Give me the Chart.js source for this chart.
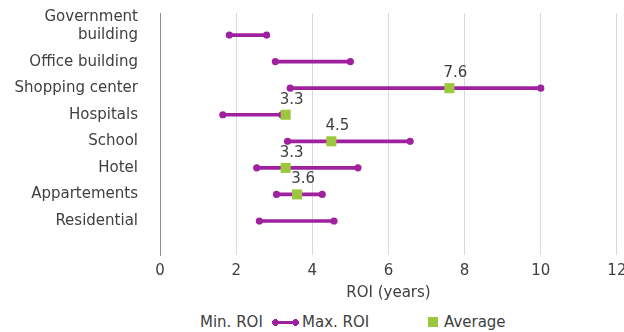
<!DOCTYPE html>
<html>
<head>
<meta charset="utf-8">
<script src="https://cdn.jsdelivr.net/npm/chart.js@4/dist/chart.umd.min.js"></script>
<style>
  html, body { margin: 0; padding: 0; background: #fff; }
  body { width: 624px; height: 332px; overflow: hidden; font-family: "DejaVu Sans", sans-serif; color: #404040; }
  #wrap { position: relative; width: 624px; height: 305px; }
  #legend { position: absolute; left: 0; top: 311px; width: 624px; height: 22px; font-size: 15px; line-height: 22px; }
  #legend span { position: absolute; top: 0; white-space: nowrap; }
  .dumbbell { width: 27px; height: 22px; }
  .dumbbell::before { content: ""; position: absolute; left: 3px; right: 3px; top: 10px; height: 3px; background: #a0219f; }
  .dumbbell::after { content: ""; position: absolute; left: 0; right: 0; top: 8px; height: 7px;
    background: radial-gradient(circle at 3.5px 3.5px, #a0219f 3.4px, transparent 3.6px),
                radial-gradient(circle at 23.5px 3.5px, #a0219f 3.4px, transparent 3.6px); }
  .square { width: 10px; height: 10px; margin-top: 6px; background: #9dc63f; }
</style>
</head>
<body>
<div id="wrap"><canvas id="roiChart"></canvas></div>
<div id="legend">
  <span style="left:200px">Min. ROI</span>
  <span class="dumbbell" style="left:272px"></span>
  <span style="left:302px">Max. ROI</span>
  <span class="square" style="left:428px"></span>
  <span style="left:444px">Average</span>
</div>
<script>
// ROI payback range per building type (years)
const categories = [["Government", "building"], "Office building", "Shopping center", "Hospitals",
                    "School", "Hotel", "Appartements", "Residential"];
const minRoi = [1.82, 3.03, 3.42, 1.65, 3.35, 2.54, 3.06, 2.61];
const maxRoi = [2.80, 5.00, 10.0, 3.20, 6.57, 5.20, 4.26, 4.57];
const avgRoi = [null, null, 7.6, 3.3, 4.5, 3.3, 3.6, null];
const xTicks = [0, 2, 4, 6, 8, 10, 12];

const PURPLE = "#a0219f";
const GREEN = "#9dc63f";
const TEXT = "#404040";
const FONT = "'DejaVu Sans', sans-serif";

const pts = (vals) => vals.map((v, i) => (v == null ? null : { x: v, y: i })).filter(Boolean);

// value labels above the average squares
const avgLabels = {
  id: "avgLabels",
  afterDatasetsDraw(chart) {
    const meta = chart.getDatasetMeta(0);
    const ctx = chart.ctx;
    ctx.save();
    ctx.font = "15px " + FONT;
    ctx.fillStyle = TEXT;
    ctx.textAlign = "center";
    ctx.textBaseline = "middle";
    meta.data.forEach((el, i) => {
      const v = meta._parsed[i].x;
      ctx.fillText(v.toFixed(1), el.x + 6, el.y - 15);
    });
    ctx.restore();
  }
};

new Chart(document.getElementById("roiChart"), {
  type: "scatter",
  data: {
    datasets: [
      {
        label: "Average",
        data: pts(avgRoi),
        pointStyle: "rect",
        pointRadius: 7.1,
        backgroundColor: GREEN,
        borderWidth: 0,
        order: 0
      },
      {
        label: "Min. ROI",
        data: pts(minRoi),
        pointRadius: 3.6,
        backgroundColor: PURPLE,
        borderWidth: 0,
        order: 1
      },
      {
        label: "Max. ROI",
        data: pts(maxRoi),
        pointRadius: 3.6,
        backgroundColor: PURPLE,
        borderWidth: 0,
        order: 1
      },
      {
        type: "bar",
        label: "range",
        indexAxis: "y",
        data: categories.map((c, i) => ({ x: [minRoi[i], maxRoi[i]], y: i })),
        backgroundColor: PURPLE,
        barThickness: 3,
        borderWidth: 0,
        order: 2
      }
    ]
  },
  options: {
    responsive: true,
    maintainAspectRatio: false,
    animation: false,
    events: [],
    layout: { padding: { top: 13, right: 4, left: 0, bottom: 0 } },
    plugins: { legend: { display: false }, tooltip: { enabled: false } },
    scales: {
      x: {
        type: "linear",
        min: 0, max: 12,
        afterBuildTicks: (s) => { s.ticks = xTicks.map((v) => ({ value: v })); },
        afterFit: (s) => { s.paddingRight = 0; s.paddingLeft = 0; s.height = 50; },
        grid: { color: "#d9d9d9", lineWidth: 1, drawTicks: false },
        border: { display: false },
        ticks: { color: TEXT, font: { family: FONT, size: 15 }, padding: 7 },
        title: { display: true, text: "ROI (years)", color: TEXT, font: { family: FONT, size: 15 }, padding: { top: 0, bottom: 3 } }
      },
      y: {
        type: "linear",
        reverse: true,
        offset: false,
        min: -0.83, max: 8.28,
        afterBuildTicks: (s) => { s.ticks = categories.map((c, i) => ({ value: i })); },
        afterFit: (s) => { s.width = 160; s.paddingTop = 0; s.paddingBottom = 0; },
        grid: { display: false },
        border: { display: true, color: "#8c8c8c", width: 1 },
        ticks: {
          color: TEXT,
          autoSkip: false,
          font: { family: FONT, size: 15 },
          padding: 14,
          // two-line label: trailing blank line lifts it so the last line sits on the row
          callback: (v) => (Array.isArray(categories[v]) ? [...categories[v], ""] : categories[v])
        }
      }
    }
  },
  plugins: [avgLabels]
});
</script>
</body>
</html>
